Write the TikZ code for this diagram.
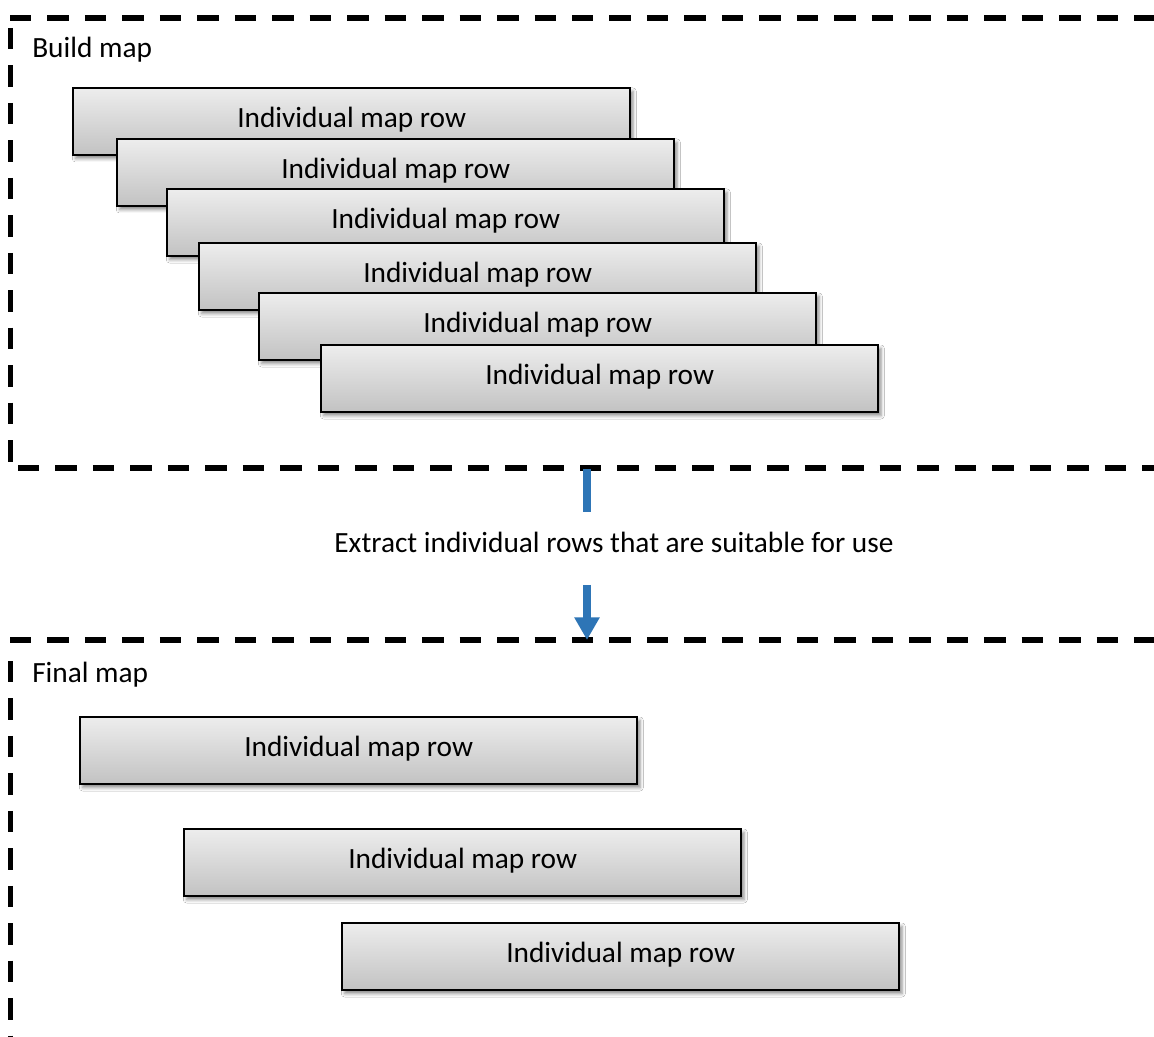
\documentclass[tikz,border=0pt]{standalone}
\usepackage{fontspec}
\setmainfont{Carlito}
\usetikzlibrary{arrows.meta,shadows.blur}
\definecolor{boxtop}{HTML}{EDEDED}
\definecolor{boxbot}{HTML}{C2C2C2}
\definecolor{arrowblue}{HTML}{2E75B6}
\tikzset{
  rowbox/.style={draw=black, line width=1.5pt, top color=boxtop, bottom color=boxbot,
    minimum width=418pt, minimum height=50.5pt, anchor=north west, inner sep=0pt,
    blur shadow={shadow xshift=2pt, shadow yshift=-2.5pt, shadow blur radius=2.5pt, shadow opacity=45},
    font=\fontsize{22}{26}\selectfont},
  rowtext/.style={font=\fontsize{22}{26}\selectfont, inner sep=0pt},
  framedash/.style={line width=3.9pt, dash pattern=on 16.1pt off 12pt, line cap=butt},
  label/.style={anchor=west, inner sep=0pt, font=\fontsize{22}{26}\selectfont},
  bluearrow/.style={draw=arrowblue, line width=6pt},
}
\begin{document}
\begin{tikzpicture}[x=0.75pt, y=-0.75pt]
\useasboundingbox (0,0) rectangle (1154,1037);
\fill[white] (0,0) rectangle (1154,1037);
% frames
\draw[framedash] (10,18) -- (1154,18);
\draw[framedash] (10.5,28) -- (10.5,463);
\draw[framedash] (18,468) -- (1154,468);
\draw[framedash] (10,640) -- (1154,640);
\draw[framedash] (10.5,661) -- (10.5,1037);
\node[label] (buildlbl) at (32,50) {Build map};
\node[label] (finallbl) at (32,675) {Final map};
% build map rows
\node[rowbox] (r1) at (72,87) {};
\node[rowtext] (t1) at ([yshift=1.5pt]r1.center) {Individual map row};
\node[rowbox] (r2) at (116,138) {};
\node[rowtext] (t2) at ([yshift=1.5pt]r2.center) {Individual map row};
\node[rowbox] (r3) at (166,188) {};
\node[rowtext] (t3) at ([yshift=1.5pt]r3.center) {Individual map row};
\node[rowbox] (r4) at (198,242) {};
\node[rowtext] (t4) at ([yshift=1.5pt]r4.center) {Individual map row};
\node[rowbox] (r5) at (258,292) {};
\node[rowtext] (t5) at ([yshift=1.5pt]r5.center) {Individual map row};
\node[rowbox] (r6) at (320,344) {};
\node[rowtext] (t6) at ([yshift=1.5pt]r6.center) {Individual map row};
% final map rows
\node[rowbox] (f1) at (79,716) {};
\node[rowtext] (ft1) at ([yshift=1.5pt]f1.center) {Individual map row};
\node[rowbox] (f2) at (183,828) {};
\node[rowtext] (ft2) at ([yshift=1.5pt]f2.center) {Individual map row};
\node[rowbox] (f3) at (341,922) {};
\node[rowtext] (ft3) at ([yshift=1.5pt]f3.center) {Individual map row};
% middle text and arrow
\node[rowtext] (extract) at (614,542) {Extract individual rows that are suitable for use};
\coordinate (a1) at (587,469);
\coordinate (a2) at (587,512);
\coordinate (a3) at (587,585);
\coordinate (a4) at (587,640);
\draw[bluearrow] (a1) -- (a2);
\draw[bluearrow, -{Triangle[width=18pt,length=17pt]}] (a3) -- (a4);
\end{tikzpicture}
\end{document}
